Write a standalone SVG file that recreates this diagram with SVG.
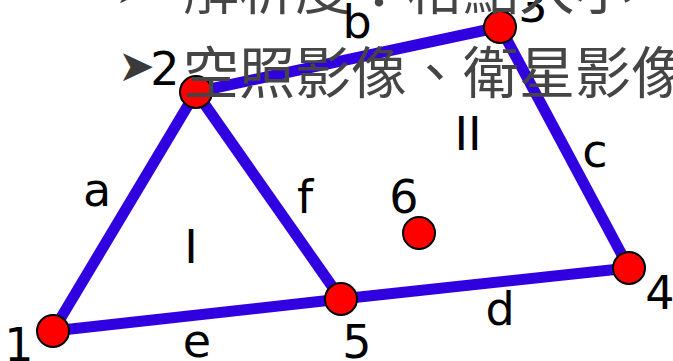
<svg xmlns="http://www.w3.org/2000/svg" width="673" height="361" viewBox="0 0 673 361">
<style>
.edge{stroke:#3000e0;stroke-width:11;stroke-linecap:butt;fill:none}
.node{fill:#ff0000;stroke:#000;stroke-width:2}
.lbl{font-family:"DejaVu Sans","Liberation Sans",sans-serif;font-size:46px;fill:#000;text-anchor:middle}
.bg{font-family:"Noto Sans CJK TC","Noto Sans CJK SC",sans-serif;font-size:56px;fill:#454545}
.bul{font-family:"DejaVu Sans",sans-serif;font-size:44px;fill:#3a3a3a}
</style>
<rect width="673" height="361" fill="#fff"/>
<g id="connectors">
<line class="edge" x1="53" y1="331" x2="196" y2="92"/>
<line class="edge" x1="196" y1="92" x2="500" y2="27"/>
<line class="edge" x1="500" y1="27" x2="629" y2="268"/>
<line class="edge" x1="341" y1="299" x2="629" y2="268"/>
<line class="edge" x1="53" y1="331" x2="341" y2="299"/>
<line class="edge" x1="196" y1="92" x2="341" y2="299"/>
</g>
<g id="node1"><circle class="node" cx="53" cy="331" r="16"/><text class="lbl" x="19" y="361">1</text></g>
<g id="node2"><circle class="node" cx="196" cy="92" r="16"/><text class="lbl" x="165" y="85">2</text></g>
<g id="node3"><circle class="node" cx="500" cy="27" r="16"/><text class="lbl" x="533" y="22">3</text></g>
<g id="node4"><circle class="node" cx="629" cy="268" r="16"/><text class="lbl" x="660" y="309">4</text></g>
<g id="node5"><circle class="node" cx="341" cy="299" r="16"/><text class="lbl" x="357" y="358">5</text></g>
<g id="node6"><circle class="node" cx="419" cy="233" r="16"/><text class="lbl" x="404" y="213">6</text></g>
<g id="background-text">
<text class="bul" x="115" y="3">➤</text>
<text class="bg" x="183" y="9">解析度：格點大小</text>
<text class="bul" x="118" y="81">➤</text>
<text class="bg" x="183" y="93">空照影像、衛星影像</text>
</g>
<g id="labels">
<text class="lbl" x="97" y="206">a</text>
<text class="lbl" x="357" y="38">b</text>
<text class="lbl" x="595" y="167">c</text>
<text class="lbl" x="500" y="325">d</text>
<text class="lbl" x="197" y="357">e</text>
<text class="lbl" x="305" y="213">f</text>
<text class="lbl" x="191" y="263">I</text>
<text class="lbl" x="468" y="150">II</text>
</g>
</svg>
